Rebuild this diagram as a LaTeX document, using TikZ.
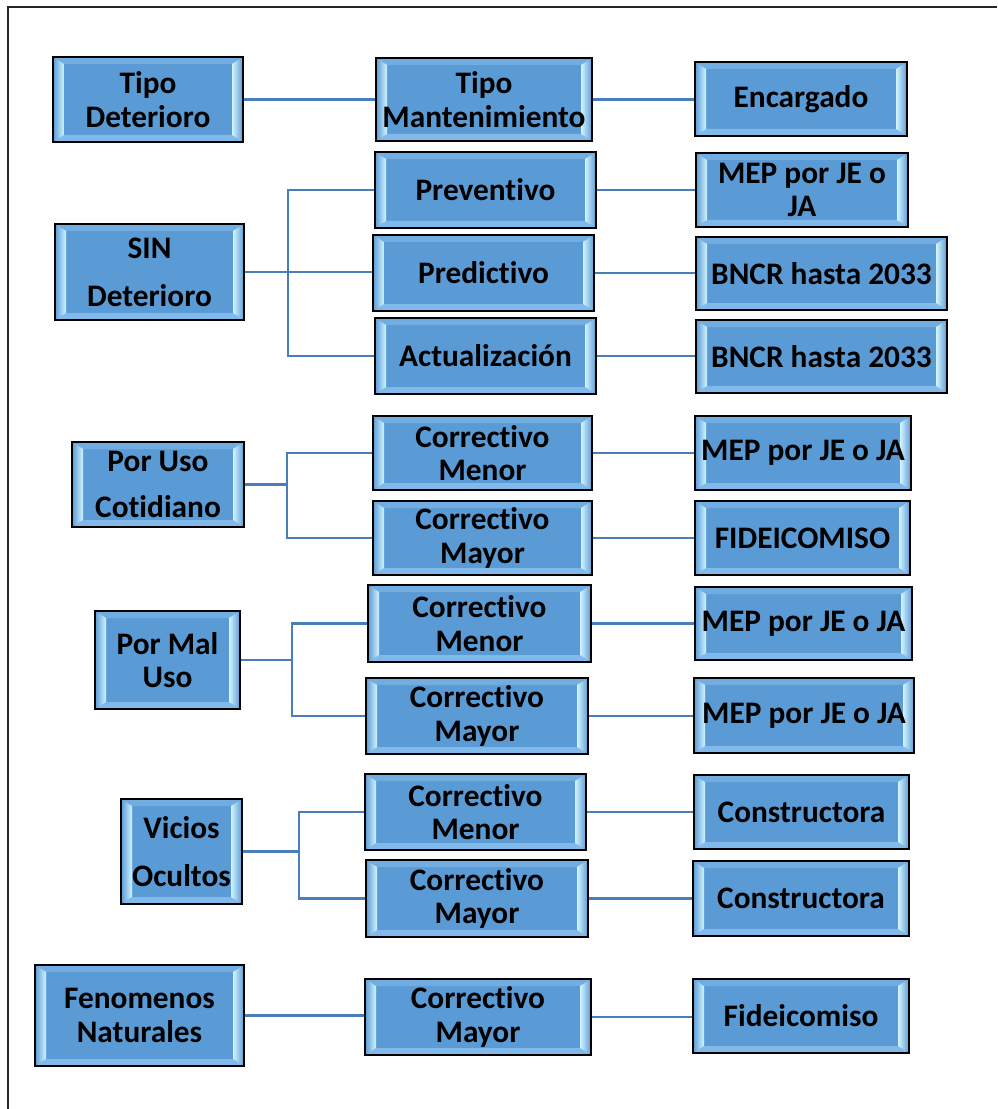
\documentclass[tikz,border=0pt]{standalone}
\usepackage{fontspec}
\setmainfont{Carlito}[Ligatures=NoCommon]
\usetikzlibrary{calc}
\definecolor{boxblue}{HTML}{5B9BD5}
\definecolor{bevlight}{HTML}{D2F4FF}
\definecolor{bevtop}{HTML}{72ADE2}
\definecolor{bevbot}{HTML}{80B9EA}
\definecolor{linecol}{HTML}{4A7EBB}
\newcommand\boxfont{\bfseries\fontsize{23.5}{25}\selectfont}
\tikzset{
  bx/.style={draw=black, line width=1.1pt, fill=boxblue, inner sep=0pt, align=center,
    font=\boxfont, text=black,
    path picture={
      \coordinate (ppA) at (path picture bounding box.north west);
      \coordinate (ppB) at (path picture bounding box.north east);
      \coordinate (ppC) at (path picture bounding box.south east);
      \coordinate (ppD) at (path picture bounding box.south west);
      \fill[bevtop] (ppA) -- (ppB) -- ($(ppB)+(-11,7)$) -- ($(ppA)+(11,7)$) -- cycle;
      \fill[bevbot] (ppD) -- (ppC) -- ($(ppC)+(-11,-7)$) -- ($(ppD)+(11,-7)$) -- cycle;
      \shade[left color=boxblue, right color=bevlight] (ppA) -- ($(ppA)+(11,7)$) -- ($(ppD)+(11,-7)$) -- (ppD) -- cycle;
      \shade[left color=bevlight, right color=boxblue] (ppB) -- ($(ppB)+(-11,7)$) -- ($(ppC)+(-11,-7)$) -- (ppC) -- cycle;
    }},
  conn/.style={draw=linecol, line width=2.2pt},
  frame/.style={draw=black!85, line width=1.5pt}
}
% name, left, top, right, bottom, text
\newcommand\bbox[6]{%
  \node[bx, minimum width={(#4-#2)*0.75pt}, minimum height={(#5-#3)*0.75pt}]
    (#1) at ({(#2+#4)/2},{(#3+#5)/2}) {#6};}
\begin{document}
\begin{tikzpicture}[x=0.75pt,y=-0.75pt]
\useasboundingbox (0,0) rectangle (997,1109);
\coordinate (f1) at (8,1109);
\coordinate (f2) at (8,7);
\coordinate (f3) at (997,7);
\draw[frame] (f1) -- (f2) -- (f3);

% header row
\bbox{td}{53}{57}{243}{142}{Tipo\\Deterioro}
\bbox{tm}{376}{58}{592}{141}{Tipo\\Mantenimiento}
\bbox{enc}{695}{62}{907}{136}{Encargado}

% SIN Deterioro
\bbox{sin}{55}{224}{244}{320}{SIN\\[11pt]Deterioro}
\bbox{prev}{375}{152}{596}{228}{Preventivo}
\bbox{pred}{373}{235}{594}{311}{Predictivo}
\bbox{act}{375}{318}{596}{394}{Actualización}
\bbox{mep1}{696}{153}{908}{227}{MEP por JE o\\JA}
\bbox{bncr1}{696}{237}{947}{310}{BNCR hasta 2033}
\bbox{bncr2}{696}{320}{947}{393}{BNCR hasta 2033}

% Por Uso Cotidiano
\bbox{puc}{72}{442}{244}{527}{Por Uso\\[10pt]Cotidiano}
\bbox{cm1}{373}{416}{592}{490}{Correctivo\\Menor}
\bbox{cmy1}{373}{501}{592}{575}{Correctivo\\Mayor}
\bbox{mep2}{695}{416}{911}{490}{MEP por JE o JA}
\bbox{fid1}{695}{501}{910}{575}{FIDEICOMISO}

% Por Mal Uso
\bbox{pmu}{95}{611}{240}{709}{Por Mal\\Uso}
\bbox{cm2}{368}{585}{591}{662}{Correctivo\\Menor}
\bbox{cmy2}{366}{678}{588}{754}{Correctivo\\Mayor}
\bbox{mep3}{695}{587}{912}{660}{MEP por JE o JA}
\bbox{mep4}{694}{678}{914}{753}{MEP por JE o JA}

% Vicios Ocultos
\bbox{vo}{121}{799}{242}{904}{Vicios\\[11pt]Ocultos}
\bbox{cm3}{365}{774}{586}{850}{Correctivo\\Menor}
\bbox{cmy3}{366}{860}{588}{937}{Correctivo\\Mayor}
\bbox{cons1}{694}{775}{909}{849}{Constructora}
\bbox{cons2}{693}{861}{909}{936}{Constructora}

% Fenomenos Naturales
\bbox{fn}{35}{965}{244}{1066}{Fenomenos\\Naturales}
\bbox{cmy4}{365}{979}{591}{1055}{Correctivo\\Mayor}
\bbox{fid2}{693}{979}{909}{1053}{Fideicomiso}

% connectors
\draw[conn] (td.east) -- (td.east -| tm.west);
\draw[conn] (tm.east) -- (tm.east -| enc.west);

\coordinate (b1) at (288,272);
\draw[conn] (sin.east) -- (sin.east -| b1);
\draw[conn] (prev.west) -| (b1) |- (act.west);
\draw[conn] (b1) -- (b1 -| pred.west);
\draw[conn] (prev.east) -- (prev.east -| mep1.west);
\draw[conn] (pred.east) -- (pred.east -| bncr1.west);
\draw[conn] (act.east) -- (act.east -| bncr2.west);

\coordinate (b2) at (287,485);
\draw[conn] (puc.east) -- (puc.east -| b2);
\draw[conn] (cm1.west) -| (b2) |- (cmy1.west);
\draw[conn] (cm1.east) -- (cm1.east -| mep2.west);
\draw[conn] (cmy1.east) -- (cmy1.east -| fid1.west);

\coordinate (b3) at (292,660);
\draw[conn] (pmu.east) -- (pmu.east -| b3);
\draw[conn] (cm2.west) -| (b3) |- (cmy2.west);
\draw[conn] (cm2.east) -- (cm2.east -| mep3.west);
\draw[conn] (cmy2.east) -- (cmy2.east -| mep4.west);

\coordinate (b4) at (299,852);
\draw[conn] (vo.east) -- (vo.east -| b4);
\draw[conn] (cm3.west) -| (b4) |- (cmy3.west);
\draw[conn] (cm3.east) -- (cm3.east -| cons1.west);
\draw[conn] (cmy3.east) -- (cmy3.east -| cons2.west);

\draw[conn] (fn.east) -- (fn.east -| cmy4.west);
\draw[conn] (cmy4.east) -- (cmy4.east -| fid2.west);
\end{tikzpicture}
\end{document}
